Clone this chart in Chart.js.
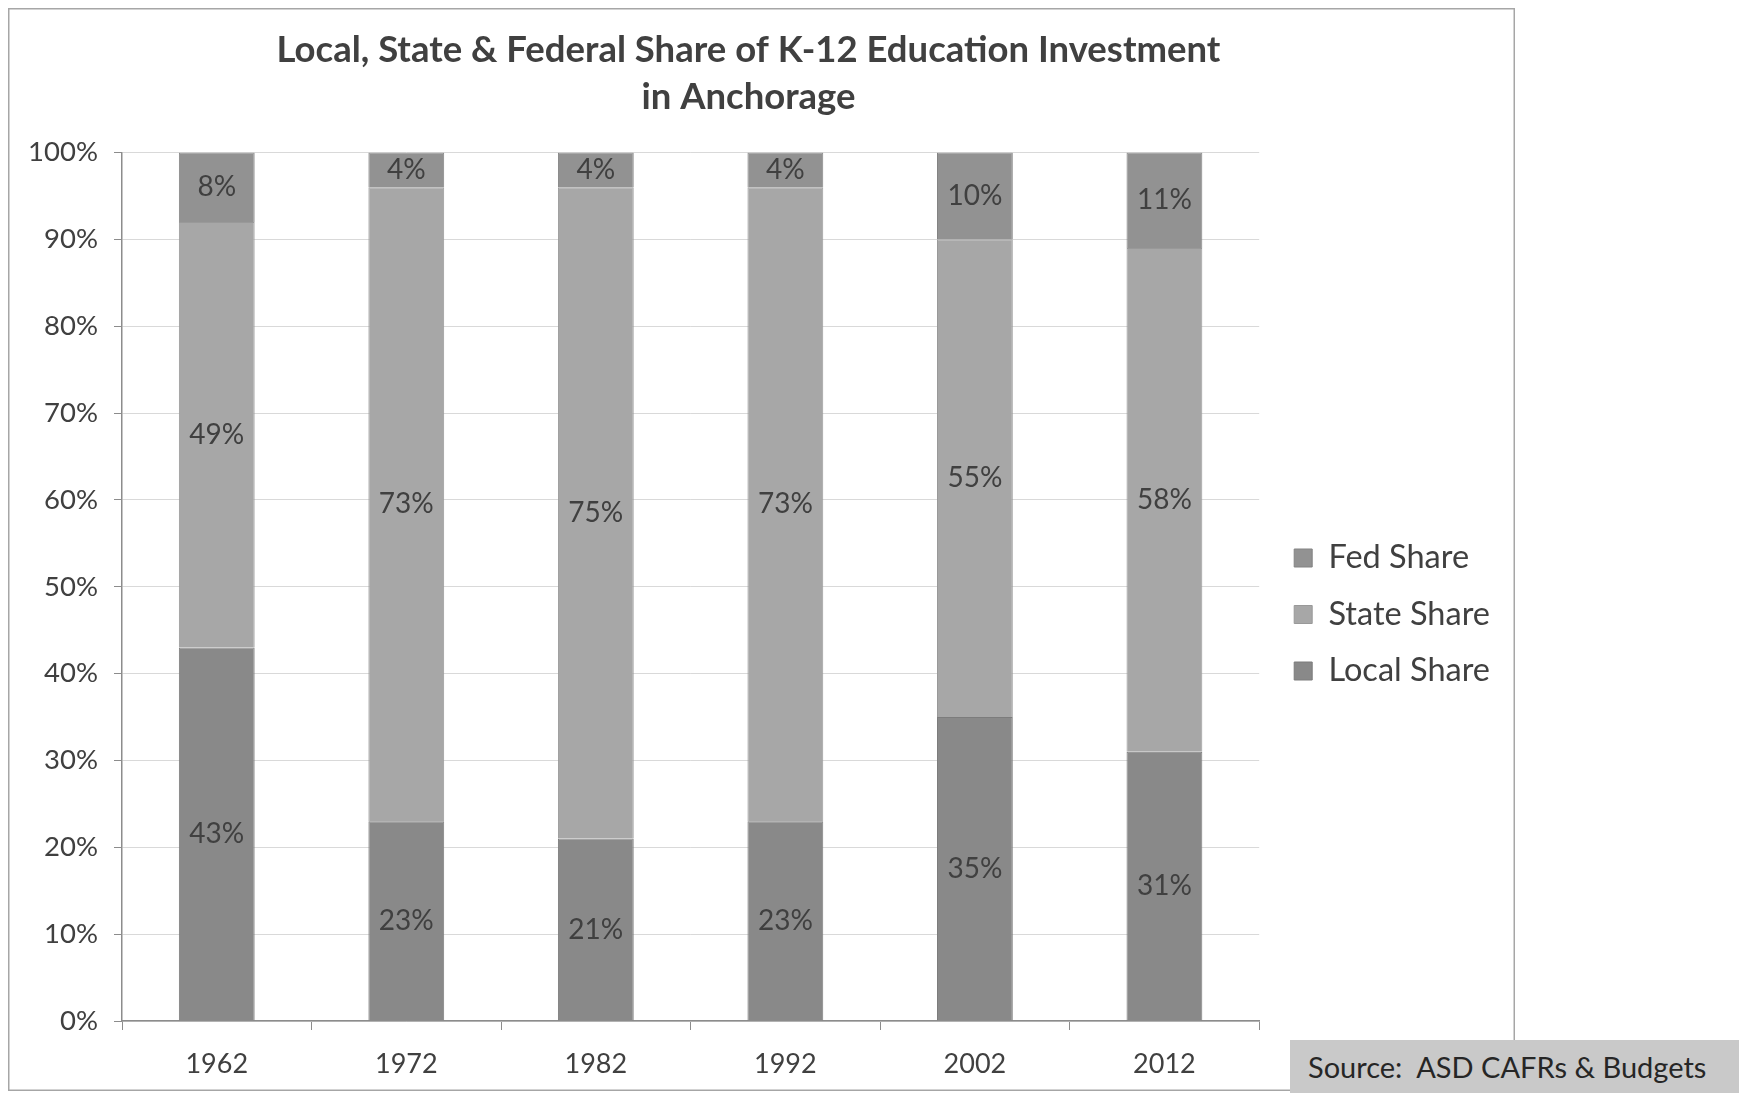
<!DOCTYPE html>
<html>
<head>
<meta charset="utf-8">
<script src="https://cdn.jsdelivr.net/npm/chart.js@4.4.1/dist/chart.umd.min.js"></script>
<style>
  html, body { margin: 0; padding: 0; background: #fff; }
  body { width: 1739px; height: 1093px; position: relative; overflow: hidden; }
  #wrap { position: absolute; left: 8px; top: 8px; width: 1507px; height: 1083px; }
  #source {
    position: absolute; left: 1290px; top: 1040px; width: 449px; height: 53px;
    background: #c9c9c9; color: #262626;
    font-family: Lato, 'Open Sans', sans-serif; font-size: 29px;
    line-height: 53px; box-sizing: border-box; padding-left: 18px;
  }
</style>
</head>
<body>
<div id="wrap"><canvas id="chartParts" width="1507" height="1083"></canvas></div>
<div id="source">Source:&nbsp; ASD CAFRs &amp; Budgets</div>
<script>
// années (axe X)
const years = ['1962', '1972', '1982', '1992', '2002', '2012'];

// parts en pourcentage
const localShare = [43, 23, 21, 23, 35, 31];
const stateShare = [49, 73, 75, 73, 55, 58];
const fedShare   = [8, 4, 4, 4, 10, 11];

// graduations de l'axe Y
const yTicks = [0, 10, 20, 30, 40, 50, 60, 70, 80, 90, 100];

const fontFamily = "Lato, 'Open Sans', sans-serif";

// fond blanc + cadre gris autour du graphique
const cadre = {
    id: 'cadre',
    beforeDraw(chart) {
        const ctx = chart.ctx;
        ctx.save();
        ctx.fillStyle = '#ffffff';
        ctx.fillRect(0, 0, chart.width, chart.height);
        ctx.strokeStyle = '#a6a6a6';
        ctx.lineWidth = 1.5;
        ctx.strokeRect(0.75, 0.75, chart.width - 1.5, chart.height - 1.5);
        ctx.restore();
    }
};

// pousse un peu la légende vers la droite (plus près du cadre)
const decaleLegende = {
    id: 'decaleLegende',
    afterLayout(chart) {
        if (chart.legend) {
            chart.legend.left += 11;
            chart.legend.right += 11;
        }
    }
};

// étiquettes au centre de chaque segment
const etiquettes = {
    id: 'etiquettes',
    afterDatasetsDraw(chart) {
        const ctx = chart.ctx;
        ctx.save();
        ctx.font = '28px ' + fontFamily;
        ctx.fillStyle = '#404040';
        ctx.textAlign = 'center';
        ctx.textBaseline = 'middle';
        chart.data.datasets.forEach(function (ds, i) {
            const meta = chart.getDatasetMeta(i);
            meta.data.forEach(function (bar, j) {
                const y = (bar.y + bar.base) / 2;
                ctx.fillText(ds.data[j] + '%', bar.x, y);
            });
        });
        ctx.restore();
    }
};

new Chart(document.getElementById('chartParts'), {
    type: 'bar',
    data: {
        labels: years,
        datasets: [
            { label: 'Local Share', data: localShare, backgroundColor: '#898989', borderColor: '#7c7c7c', borderWidth: 1 },
            { label: 'State Share', data: stateShare, backgroundColor: '#a7a7a7', borderColor: '#999999', borderWidth: 1 },
            { label: 'Fed Share',   data: fedShare,   backgroundColor: '#929292', borderColor: '#838383', borderWidth: 1 }
        ]
    },
    options: {
        responsive: false,
        animation: false,
        datasets: { bar: { barPercentage: 0.4, categoryPercentage: 1 } },
        layout: { padding: { left: 0, right: 26, top: 0, bottom: 0 } },
        plugins: {
            title: {
                display: true,
                text: ['Local, State & Federal Share of K-12 Education Investment', 'in Anchorage'],
                color: '#404040',
                font: { family: fontFamily, size: 36.5, weight: 'bold', lineHeight: 1.28 },
                padding: { top: 19, bottom: 32 }
            },
            legend: {
                position: 'right',
                reverse: true,
                // titre vide : sert seulement à descendre la légende
                title: { display: true, text: ' ', font: { size: 20, lineHeight: 1 }, padding: { top: 55, bottom: 55 } },
                labels: {
                    color: '#404040',
                    font: { family: fontFamily, size: 32.5 },
                    boxWidth: 18,
                    boxHeight: 18,
                    padding: 24
                }
            },
            tooltip: { enabled: false }
        },
        scales: {
            x: {
                stacked: true,
                afterFit(scale) { scale.height = 70; },
                grid: { display: true, drawOnChartArea: false, color: '#8c8c8c', tickLength: 9 },
                border: { color: '#8c8c8c', width: 1.5 },
                ticks: { color: '#404040', font: { family: fontFamily, size: 27 }, padding: 18 }
            },
            y: {
                stacked: true,
                min: 0,
                max: 100,
                afterBuildTicks(scale) {
                    scale.ticks = yTicks.map(v => ({ value: v }));
                },
                afterFit(scale) { scale.width = 114; },
                grid: { color: '#d9d9d9', tickColor: '#8c8c8c', tickLength: 8 },
                border: { color: '#8c8c8c', width: 1.5 },
                ticks: {
                    color: '#404040',
                    font: { family: fontFamily, size: 27.5 },
                    padding: 16,
                    callback: v => v + '%'
                }
            }
        }
    },
    plugins: [cadre, decaleLegende, etiquettes]
});
</script>
</body>
</html>
